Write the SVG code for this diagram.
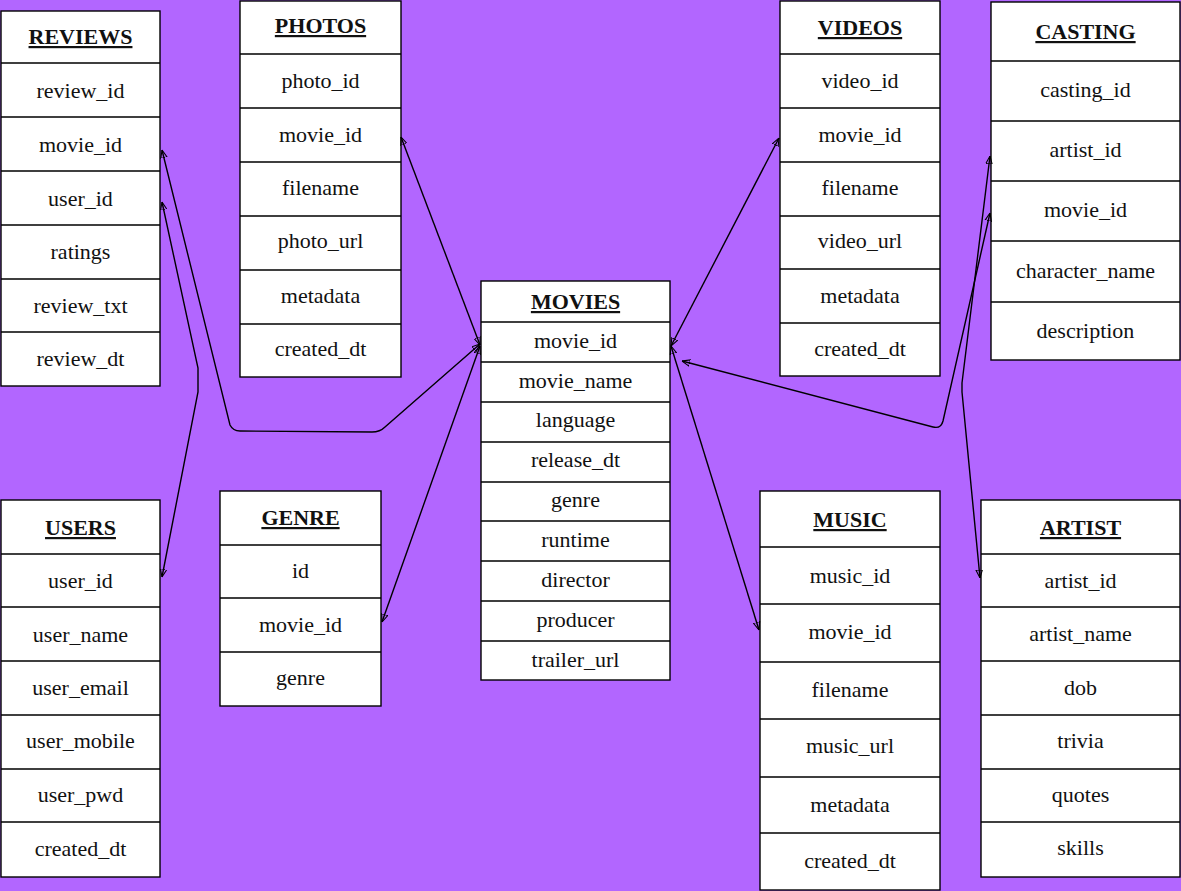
<svg xmlns="http://www.w3.org/2000/svg" width="1181" height="891" viewBox="0 0 1181 891">
<defs>
<style>
.bg{fill:#b266ff}
.box{fill:#fff;stroke:#000;stroke-width:1.4}
.sep{stroke:#000;stroke-width:1.3;fill:none}
text{font-family:'Liberation Serif','DejaVu Serif',serif;font-size:22px;text-anchor:middle;fill:#111}
.h{font-weight:bold;text-decoration:underline}
.c{fill:none;stroke:#000;stroke-width:1.4;marker-start:url(#arr);marker-end:url(#arr)}
</style>
<marker id="arr" viewBox="0 0 10 10" refX="10" refY="5" markerWidth="8" markerHeight="8" markerUnits="userSpaceOnUse" orient="auto-start-reverse">
<path d="M0,1 L10,5 L0,9 Z" fill="none" stroke="#000" stroke-width="1.3"/>
</marker>
</defs>
<rect class="bg" x="0" y="0" width="1181" height="891"/>

<g id="reviews" font-family="'Liberation Serif', 'DejaVu Serif', serif">
<rect class="box" x="1" y="11" width="159" height="375"/>
<path class="sep" d="M1,63H160M1,117H160M1,171H160M1,225H160M1,279H160M1,332H160"/>
<text class="h" x="80.5" y="44">REVIEWS</text>
<text x="80.5" y="98">review_id</text>
<text x="80.5" y="152">movie_id</text>
<text x="80.5" y="206">user_id</text>
<text x="80.5" y="259">ratings</text>
<text x="80.5" y="313">review_txt</text>
<text x="80.5" y="366">review_dt</text>
</g>

<g id="photos">
<rect class="box" x="240" y="1" width="161" height="376"/>
<path class="sep" d="M240,54H401M240,108H401M240,162H401M240,216H401M240,270H401M240,324H401"/>
<text class="h" x="320.5" y="33">PHOTOS</text>
<text x="320.5" y="88">photo_id</text>
<text x="320.5" y="142">movie_id</text>
<text x="320.5" y="195">filename</text>
<text x="320.5" y="248">photo_url</text>
<text x="320.5" y="303">metadata</text>
<text x="320.5" y="356">created_dt</text>
</g>

<g id="movies">
<rect class="box" x="481" y="281" width="189" height="399"/>
<path class="sep" d="M481,322H670M481,362H670M481,402H670M481,442H670M481,482H670M481,521H670M481,561H670M481,601H670M481,641H670"/>
<text class="h" x="575.5" y="309">MOVIES</text>
<text x="575.5" y="348">movie_id</text>
<text x="575.5" y="388">movie_name</text>
<text x="575.5" y="427">language</text>
<text x="575.5" y="467">release_dt</text>
<text x="575.5" y="507">genre</text>
<text x="575.5" y="547">runtime</text>
<text x="575.5" y="587">director</text>
<text x="575.5" y="627">producer</text>
<text x="575.5" y="667">trailer_url</text>
</g>

<g id="videos">
<rect class="box" x="780" y="1" width="160" height="375"/>
<path class="sep" d="M780,54H940M780,108H940M780,162H940M780,216H940M780,269H940M780,323H940"/>
<text class="h" x="860" y="35">VIDEOS</text>
<text x="860" y="88">video_id</text>
<text x="860" y="142">movie_id</text>
<text x="860" y="195">filename</text>
<text x="860" y="248">video_url</text>
<text x="860" y="303">metadata</text>
<text x="860" y="356">created_dt</text>
</g>

<g id="casting">
<rect class="box" x="991" y="2" width="189" height="358"/>
<path class="sep" d="M991,61H1180M991,121H1180M991,181H1180M991,241H1180M991,302H1180"/>
<text class="h" x="1085.5" y="39">CASTING</text>
<text x="1085.5" y="97">casting_id</text>
<text x="1085.5" y="157">artist_id</text>
<text x="1085.5" y="217">movie_id</text>
<text x="1085.5" y="278">character_name</text>
<text x="1085.5" y="338">description</text>
</g>

<g id="users">
<rect class="box" x="1" y="500" width="159" height="377"/>
<path class="sep" d="M1,554H160M1,607H160M1,661H160M1,715H160M1,769H160M1,822H160"/>
<text class="h" x="80.5" y="535">USERS</text>
<text x="80.5" y="588">user_id</text>
<text x="80.5" y="642">user_name</text>
<text x="80.5" y="695">user_email</text>
<text x="80.5" y="748">user_mobile</text>
<text x="80.5" y="802">user_pwd</text>
<text x="80.5" y="856">created_dt</text>
</g>

<g id="genre">
<rect class="box" x="220" y="491" width="161" height="215"/>
<path class="sep" d="M220,545H381M220,598H381M220,652H381"/>
<text class="h" x="300.5" y="525">GENRE</text>
<text x="300.5" y="578">id</text>
<text x="300.5" y="632">movie_id</text>
<text x="300.5" y="685">genre</text>
</g>

<g id="music">
<rect class="box" x="760" y="491" width="180" height="399"/>
<path class="sep" d="M760,547H940M760,604H940M760,662H940M760,719H940M760,777H940M760,833H940"/>
<text class="h" x="850" y="527">MUSIC</text>
<text x="850" y="583">music_id</text>
<text x="850" y="639">movie_id</text>
<text x="850" y="697">filename</text>
<text x="850" y="753">music_url</text>
<text x="850" y="812">metadata</text>
<text x="850" y="868">created_dt</text>
</g>

<g id="artist">
<rect class="box" x="981" y="500" width="199" height="377"/>
<path class="sep" d="M981,554H1180M981,607H1180M981,661H1180M981,715H1180M981,769H1180M981,822H1180"/>
<text class="h" x="1080.5" y="535">ARTIST</text>
<text x="1080.5" y="588">artist_id</text>
<text x="1080.5" y="641">artist_name</text>
<text x="1080.5" y="695">dob</text>
<text x="1080.5" y="748">trivia</text>
<text x="1080.5" y="802">quotes</text>
<text x="1080.5" y="855">skills</text>
</g>

<g id="connectors">
<path class="c" d="M162,150 L230,425 Q233,431 240,431 L372,432 Q380,432 385,427 L480,344"/>
<path class="c" d="M162,202 L198,368 L198,392 L162,577"/>
<path class="c" d="M401,137 L480,345"/>
<path class="c" d="M382,622 L480,346"/>
<path class="c" d="M779,138 L671,346"/>
<path class="c" d="M759,630 L671,346"/>
<path class="c" d="M990,213 L943,421 Q941,429 933,427 L682,361"/>
<path class="c" d="M990,156 L962,383 L962,392 L980,578"/>
</g>
</svg>
